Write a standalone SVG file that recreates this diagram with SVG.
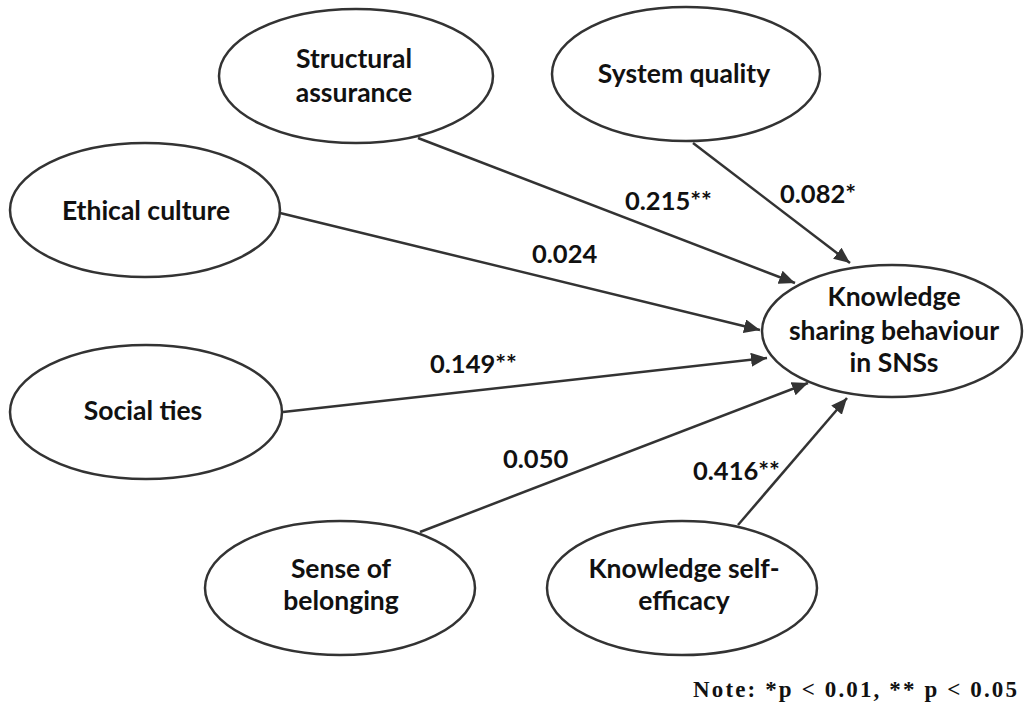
<svg xmlns="http://www.w3.org/2000/svg" width="1024" height="709" viewBox="0 0 1024 709">
<style>
.node ellipse{fill:#fff;stroke:#333;stroke-width:2.5}
.node text{font-family:Lato,"Liberation Sans",sans-serif;font-weight:bold;font-size:26.5px;fill:#111;text-anchor:middle}
.edge line{stroke:#333;stroke-width:2.5;fill:none}
.lbl{font-family:Lato,"Liberation Sans",sans-serif;font-weight:bold;font-size:25.5px;fill:#111}
.note{font-family:"Liberation Serif",serif;font-weight:bold;font-size:23px;fill:#111}
</style>
<defs>
<marker id="arr" markerUnits="userSpaceOnUse" markerWidth="18" markerHeight="14" refX="16" refY="7" orient="auto">
<path d="M0,0 L16,7 L0,14 Z" fill="#333"/>
</marker>
</defs>
<rect width="1024" height="709" fill="#fff"/>
<g id="connectors" class="edge">
<line x1="418" y1="138" x2="795" y2="283" marker-end="url(#arr)"/>
<line x1="693" y1="143" x2="850" y2="263" marker-end="url(#arr)"/>
<line x1="280" y1="213" x2="760" y2="330" marker-end="url(#arr)"/>
<line x1="283" y1="412" x2="767" y2="358" marker-end="url(#arr)"/>
<line x1="420" y1="532" x2="808" y2="383" marker-end="url(#arr)"/>
<line x1="738" y1="525" x2="847" y2="398" marker-end="url(#arr)"/>
</g>
<g id="labels">
<text class="lbl" x="625" y="210">0.215**</text>
<text class="lbl" x="780" y="203">0.082*</text>
<text class="lbl" x="532" y="263">0.024</text>
<text class="lbl" x="430" y="373">0.149**</text>
<text class="lbl" x="503" y="468">0.050</text>
<text class="lbl" x="693" y="480">0.416**</text>
</g>
<g id="structural-assurance" class="node">
<ellipse cx="356" cy="76" rx="137" ry="67"/>
<text x="354" y="68">Structural</text>
<text x="354" y="102">assurance</text>
</g>
<g id="system-quality" class="node">
<ellipse cx="686" cy="74" rx="134" ry="67"/>
<text x="684" y="83">System quality</text>
</g>
<g id="ethical-culture" class="node">
<ellipse cx="145" cy="210" rx="135" ry="67"/>
<text x="146" y="220">Ethical culture</text>
</g>
<g id="social-ties" class="node">
<ellipse cx="146" cy="412" rx="136" ry="67"/>
<text x="143" y="420">Social ties</text>
</g>
<g id="sense-of-belonging" class="node">
<ellipse cx="340" cy="588" rx="135" ry="67"/>
<text x="341" y="578">Sense of</text>
<text x="341" y="610">belonging</text>
</g>
<g id="knowledge-self-efficacy" class="node">
<ellipse cx="682" cy="588" rx="135" ry="67"/>
<text x="684" y="578">Knowledge self-</text>
<text x="684" y="610">efficacy</text>
</g>
<g id="knowledge-sharing" class="node">
<ellipse cx="892" cy="331" rx="130" ry="66"/>
<text x="894" y="306">Knowledge</text>
<text x="894" y="340">sharing behaviour</text>
<text x="894" y="372">in SNSs</text>
</g>
<text class="note" x="693" y="697" textLength="324" lengthAdjust="spacing">Note: *p &lt; 0.01, ** p &lt; 0.05</text>
</svg>
